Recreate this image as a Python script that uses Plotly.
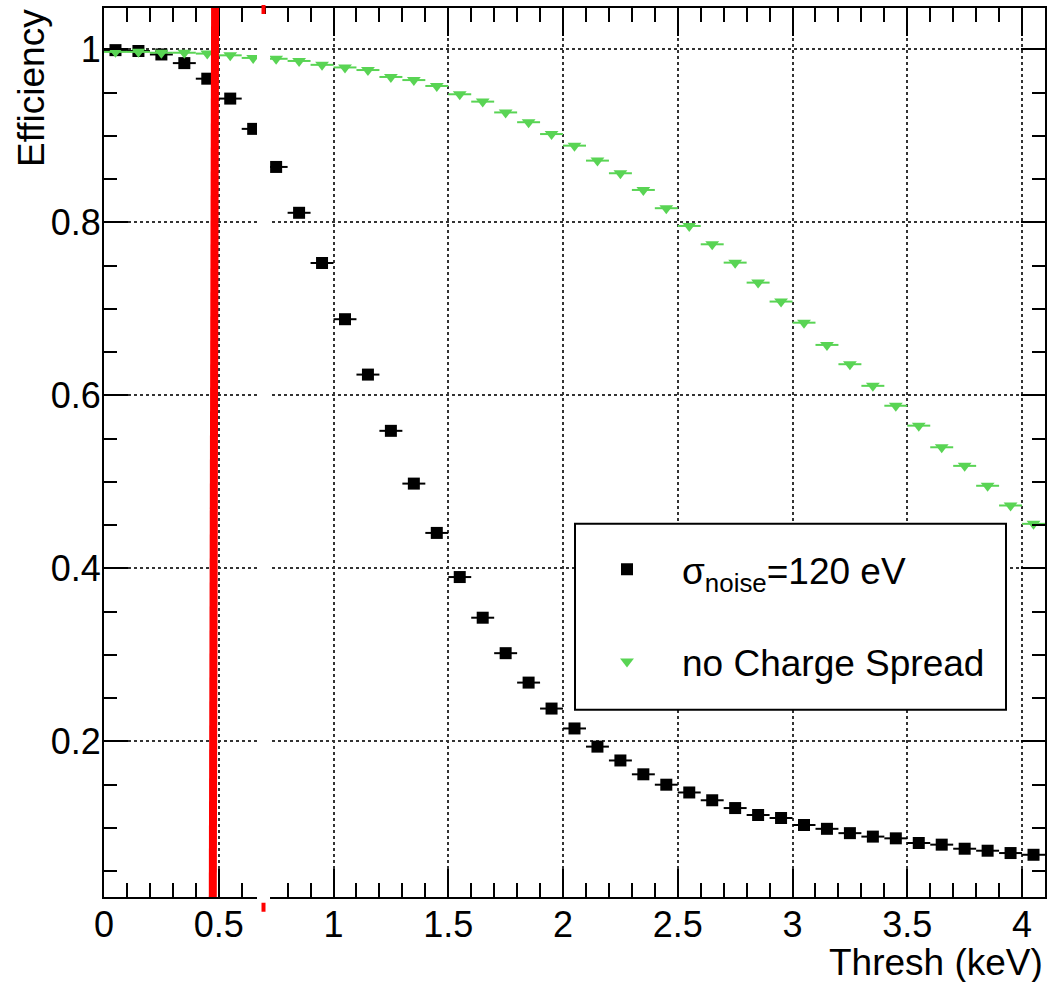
import plotly.graph_objects as go

# ---- data ----
thresh_kev = [0.05, 0.15, 0.25, 0.35, 0.45, 0.55, 0.65, 0.75, 0.85, 0.95,
              1.05, 1.15, 1.25, 1.35, 1.45, 1.55, 1.65, 1.75, 1.85, 1.95,
              2.05, 2.15, 2.25, 2.35, 2.45, 2.55, 2.65, 2.75, 2.85, 2.95,
              3.05, 3.15, 3.25, 3.35, 3.45, 3.55, 3.65, 3.75, 3.85, 3.95, 4.05]

eff_noise120 = [0.999, 0.998, 0.994, 0.984, 0.966, 0.943, 0.908, 0.864, 0.811, 0.753,
                0.688, 0.624, 0.559, 0.498, 0.441, 0.390, 0.343, 0.302, 0.268, 0.238,
                0.215, 0.194, 0.178, 0.162, 0.150, 0.141, 0.132, 0.123, 0.115, 0.1115,
                0.1034, 0.099, 0.094, 0.090, 0.088, 0.0826, 0.0807, 0.076, 0.0737, 0.071, 0.069]

eff_no_spread = [0.997, 0.997, 0.996, 0.996, 0.995, 0.993, 0.990, 0.989, 0.9865, 0.982,
                 0.979, 0.976, 0.968, 0.9644, 0.9576, 0.948, 0.9395, 0.927, 0.9157, 0.902,
                 0.8886, 0.8713, 0.8567, 0.8374, 0.8163, 0.7958, 0.7746, 0.7534, 0.7303, 0.7084,
                 0.684, 0.6583, 0.636, 0.611, 0.588, 0.565, 0.540, 0.5185, 0.4955, 0.4727, 0.4515]

bin_half_width = 0.05
cut_line_x = [0.474, 0.484]   # red threshold line (bottom, top)
white_line_x = 0.695

x_range = [0.0, 4.1]
y_range = [0.0202, 1.0477]

GREEN = "#59D454"
FONT = "Liberation Sans, Arial, Helvetica, sans-serif"

fig = go.Figure()

fig.add_trace(go.Scatter(
    x=thresh_kev, y=eff_noise120, mode="markers",
    name="σ<sub>noise</sub>=120 eV",
    marker=dict(symbol="square", size=12, color="black"),
    error_x=dict(type="constant", value=bin_half_width, color="black", thickness=2, width=0),
    legendgroup="a",
))
fig.add_trace(go.Scatter(
    x=thresh_kev, y=eff_no_spread, mode="markers",
    name="no Charge Spread",
    marker=dict(symbol="triangle-down", size=12, color=GREEN),
    error_x=dict(type="constant", value=bin_half_width, color=GREEN, thickness=2, width=0),
    legendgroup="b",
))

axis_common = dict(
    showline=True, linecolor="black", linewidth=2, mirror="ticks",
    ticks="inside", tickcolor="black", tickwidth=2,
    showgrid=True, gridcolor="#333333", gridwidth=1.5, griddash="dot",
    zeroline=False,
    tickfont=dict(family=FONT, size=36, color="black"),
)

fig.update_xaxes(range=x_range, dtick=0.5, tick0=0, ticklen=28, ticklabelstandoff=-5,
                 minor=dict(dtick=0.1, ticklen=14, ticks="inside", tickcolor="black", tickwidth=2, showgrid=False),
                 **axis_common)
fig.update_yaxes(range=y_range, dtick=0.2, tick0=0, ticklen=24, ticklabelstandoff=-6,
                 minor=dict(dtick=0.05, ticklen=13, ticks="inside", tickcolor="black", tickwidth=2, showgrid=False),
                 **axis_common)

shapes = []
# legend box
shapes.append(dict(type="rect", xref="paper", yref="paper",
                   x0=(575 - 104) / 941, x1=(1006 - 104) / 941,
                   y0=(897.3 - 710) / 889.3, y1=(897.3 - 524) / 889.3,
                   fillcolor="white", line=dict(color="black", width=2), layer="above"))
# red threshold line
shapes.append(dict(type="line", xref="x", yref="y",
                   x0=cut_line_x[0], x1=cut_line_x[1], y0=y_range[0], y1=y_range[1],
                   line=dict(color="red", width=8), layer="above"))
# thin red mark with white cover inside the frame
shapes.append(dict(type="line", xref="x", yref="paper",
                   x0=white_line_x, x1=white_line_x, y0=(897.3 - 912) / 889.3, y1=(897.3 - 5) / 889.3,
                   line=dict(color="red", width=4), layer="above"))
shapes.append(dict(type="line", xref="x", yref="paper",
                   x0=white_line_x, x1=white_line_x, y0=(897.3 - 903) / 889.3, y1=(897.3 - 14) / 889.3,
                   line=dict(color="white", width=13), layer="above"))

annotations = [
    dict(text="Thresh (keV)", xref="paper", yref="paper", x=1.0, y=(897.3 - 963) / 889.3,
         xanchor="right", yanchor="middle", showarrow=False,
         font=dict(family=FONT, size=37, color="black")),
    dict(text="Efficiency", xref="paper", yref="paper", x=(32 - 104) / 941, y=(897.3 - 88) / 889.3,
         xanchor="center", yanchor="middle", textangle=-90, showarrow=False,
         font=dict(family=FONT, size=37, color="black")),
]

fig.update_layout(
    width=1057, height=982,
    margin=dict(l=104, r=12, t=8, b=84.7, autoexpand=False),
    paper_bgcolor="white", plot_bgcolor="white",
    shapes=shapes, annotations=annotations,
    showlegend=True,
    legend=dict(
        x=(572 - 104) / 941, y=(897.3 - 539) / 889.3, xanchor="left", yanchor="top",
        bgcolor="rgba(0,0,0,0)", borderwidth=0,
        font=dict(family=FONT, size=37, color="black"),
        traceorder="grouped", tracegroupgap=41, itemwidth=100,
    ),
    font=dict(family=FONT),
)

fig.write_html("out.html")
